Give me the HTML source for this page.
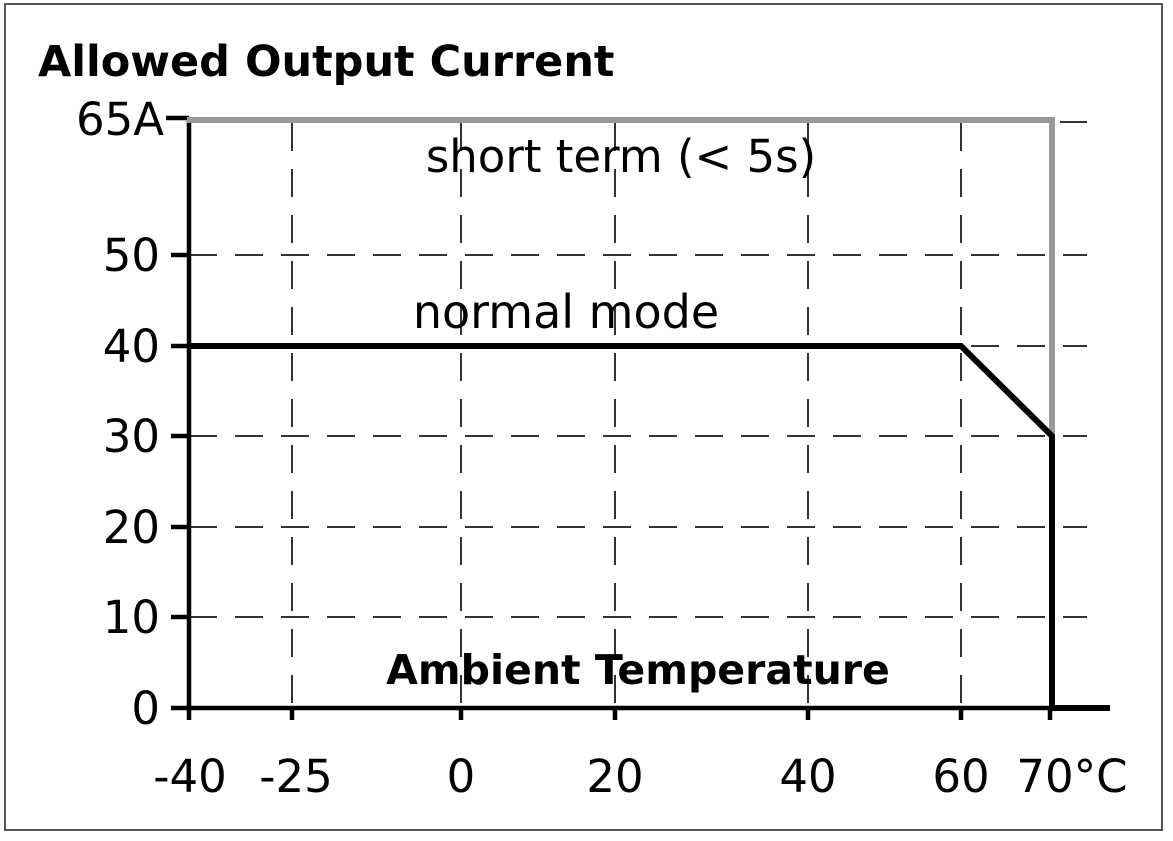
<!DOCTYPE html>
<html><head><style>body{margin:0;background:#fff}svg{display:block}</style></head><body>
<svg width="1173" height="841" viewBox="0 0 1173 841" xmlns="http://www.w3.org/2000/svg" font-family="'DejaVu Sans','Liberation Sans',sans-serif">
<rect x="5" y="4" width="1157" height="826" fill="#fff" stroke="#555" stroke-width="2"/>
<g stroke="#333" stroke-width="2" stroke-dasharray="28,18" fill="none">
<line x1="292" y1="123" x2="292" y2="708"/><line x1="461" y1="123" x2="461" y2="708"/>
<line x1="615" y1="123" x2="615" y2="708"/><line x1="808" y1="123" x2="808" y2="708"/>
<line x1="961" y1="123" x2="961" y2="708"/>
<line x1="189" y1="255" x2="1087" y2="255"/><line x1="189" y1="346" x2="1087" y2="346"/>
<line x1="189" y1="436" x2="1087" y2="436"/><line x1="189" y1="527" x2="1087" y2="527"/>
<line x1="189" y1="617" x2="1087" y2="617"/><line x1="1060" y1="122" x2="1087" y2="122"/>
</g>
<g stroke="#000" stroke-width="4.5" fill="none">
<line x1="189" y1="118" x2="189" y2="710"/>
<line x1="166" y1="118" x2="189" y2="118"/><line x1="171" y1="255" x2="189" y2="255"/>
<line x1="171" y1="346" x2="189" y2="346"/><line x1="171" y1="436" x2="189" y2="436"/>
<line x1="171" y1="527" x2="189" y2="527"/><line x1="171" y1="617" x2="189" y2="617"/>
<line x1="171" y1="708" x2="189" y2="708"/>
<line x1="189" y1="708" x2="1052" y2="708"/>
<line x1="189" y1="708" x2="189" y2="720"/><line x1="292" y1="708" x2="292" y2="720"/>
<line x1="461" y1="708" x2="461" y2="720"/><line x1="615" y1="708" x2="615" y2="720"/>
<line x1="808" y1="708" x2="808" y2="720"/><line x1="961" y1="708" x2="961" y2="720"/>
<line x1="1050" y1="708" x2="1050" y2="720"/>
</g>
<polyline points="187,120 1052,120 1052,436" stroke="#999" stroke-width="6" fill="none"/>
<polyline points="189,346 961,346 1052,436 1052,708 1110,708" stroke="#000" stroke-width="6" fill="none" stroke-linejoin="miter"/>
<text x="38" y="76" font-size="43" font-weight="bold">Allowed Output  Current</text>
<g font-size="45" text-anchor="end">
<text x="164" y="135">65A</text><text x="160" y="271">50</text><text x="160" y="362">40</text>
<text x="160" y="452">30</text><text x="160" y="543">20</text><text x="160" y="633">10</text><text x="160" y="724">0</text>
</g>
<g font-size="45" text-anchor="middle">
<text x="190" y="792">-40</text><text x="296" y="792">-25</text><text x="461" y="792">0</text>
<text x="615" y="792">20</text><text x="808" y="792">40</text><text x="961" y="792">60</text>
<text x="1072" y="792">70°C</text>
</g>
<text x="621" y="172" font-size="45" text-anchor="middle">short term (&lt; 5s)</text>
<text x="566" y="328" font-size="46" text-anchor="middle">normal mode</text>
<text x="638" y="684" font-size="41" font-weight="bold" text-anchor="middle">Ambient Temperature</text>
</svg>
</body></html>
